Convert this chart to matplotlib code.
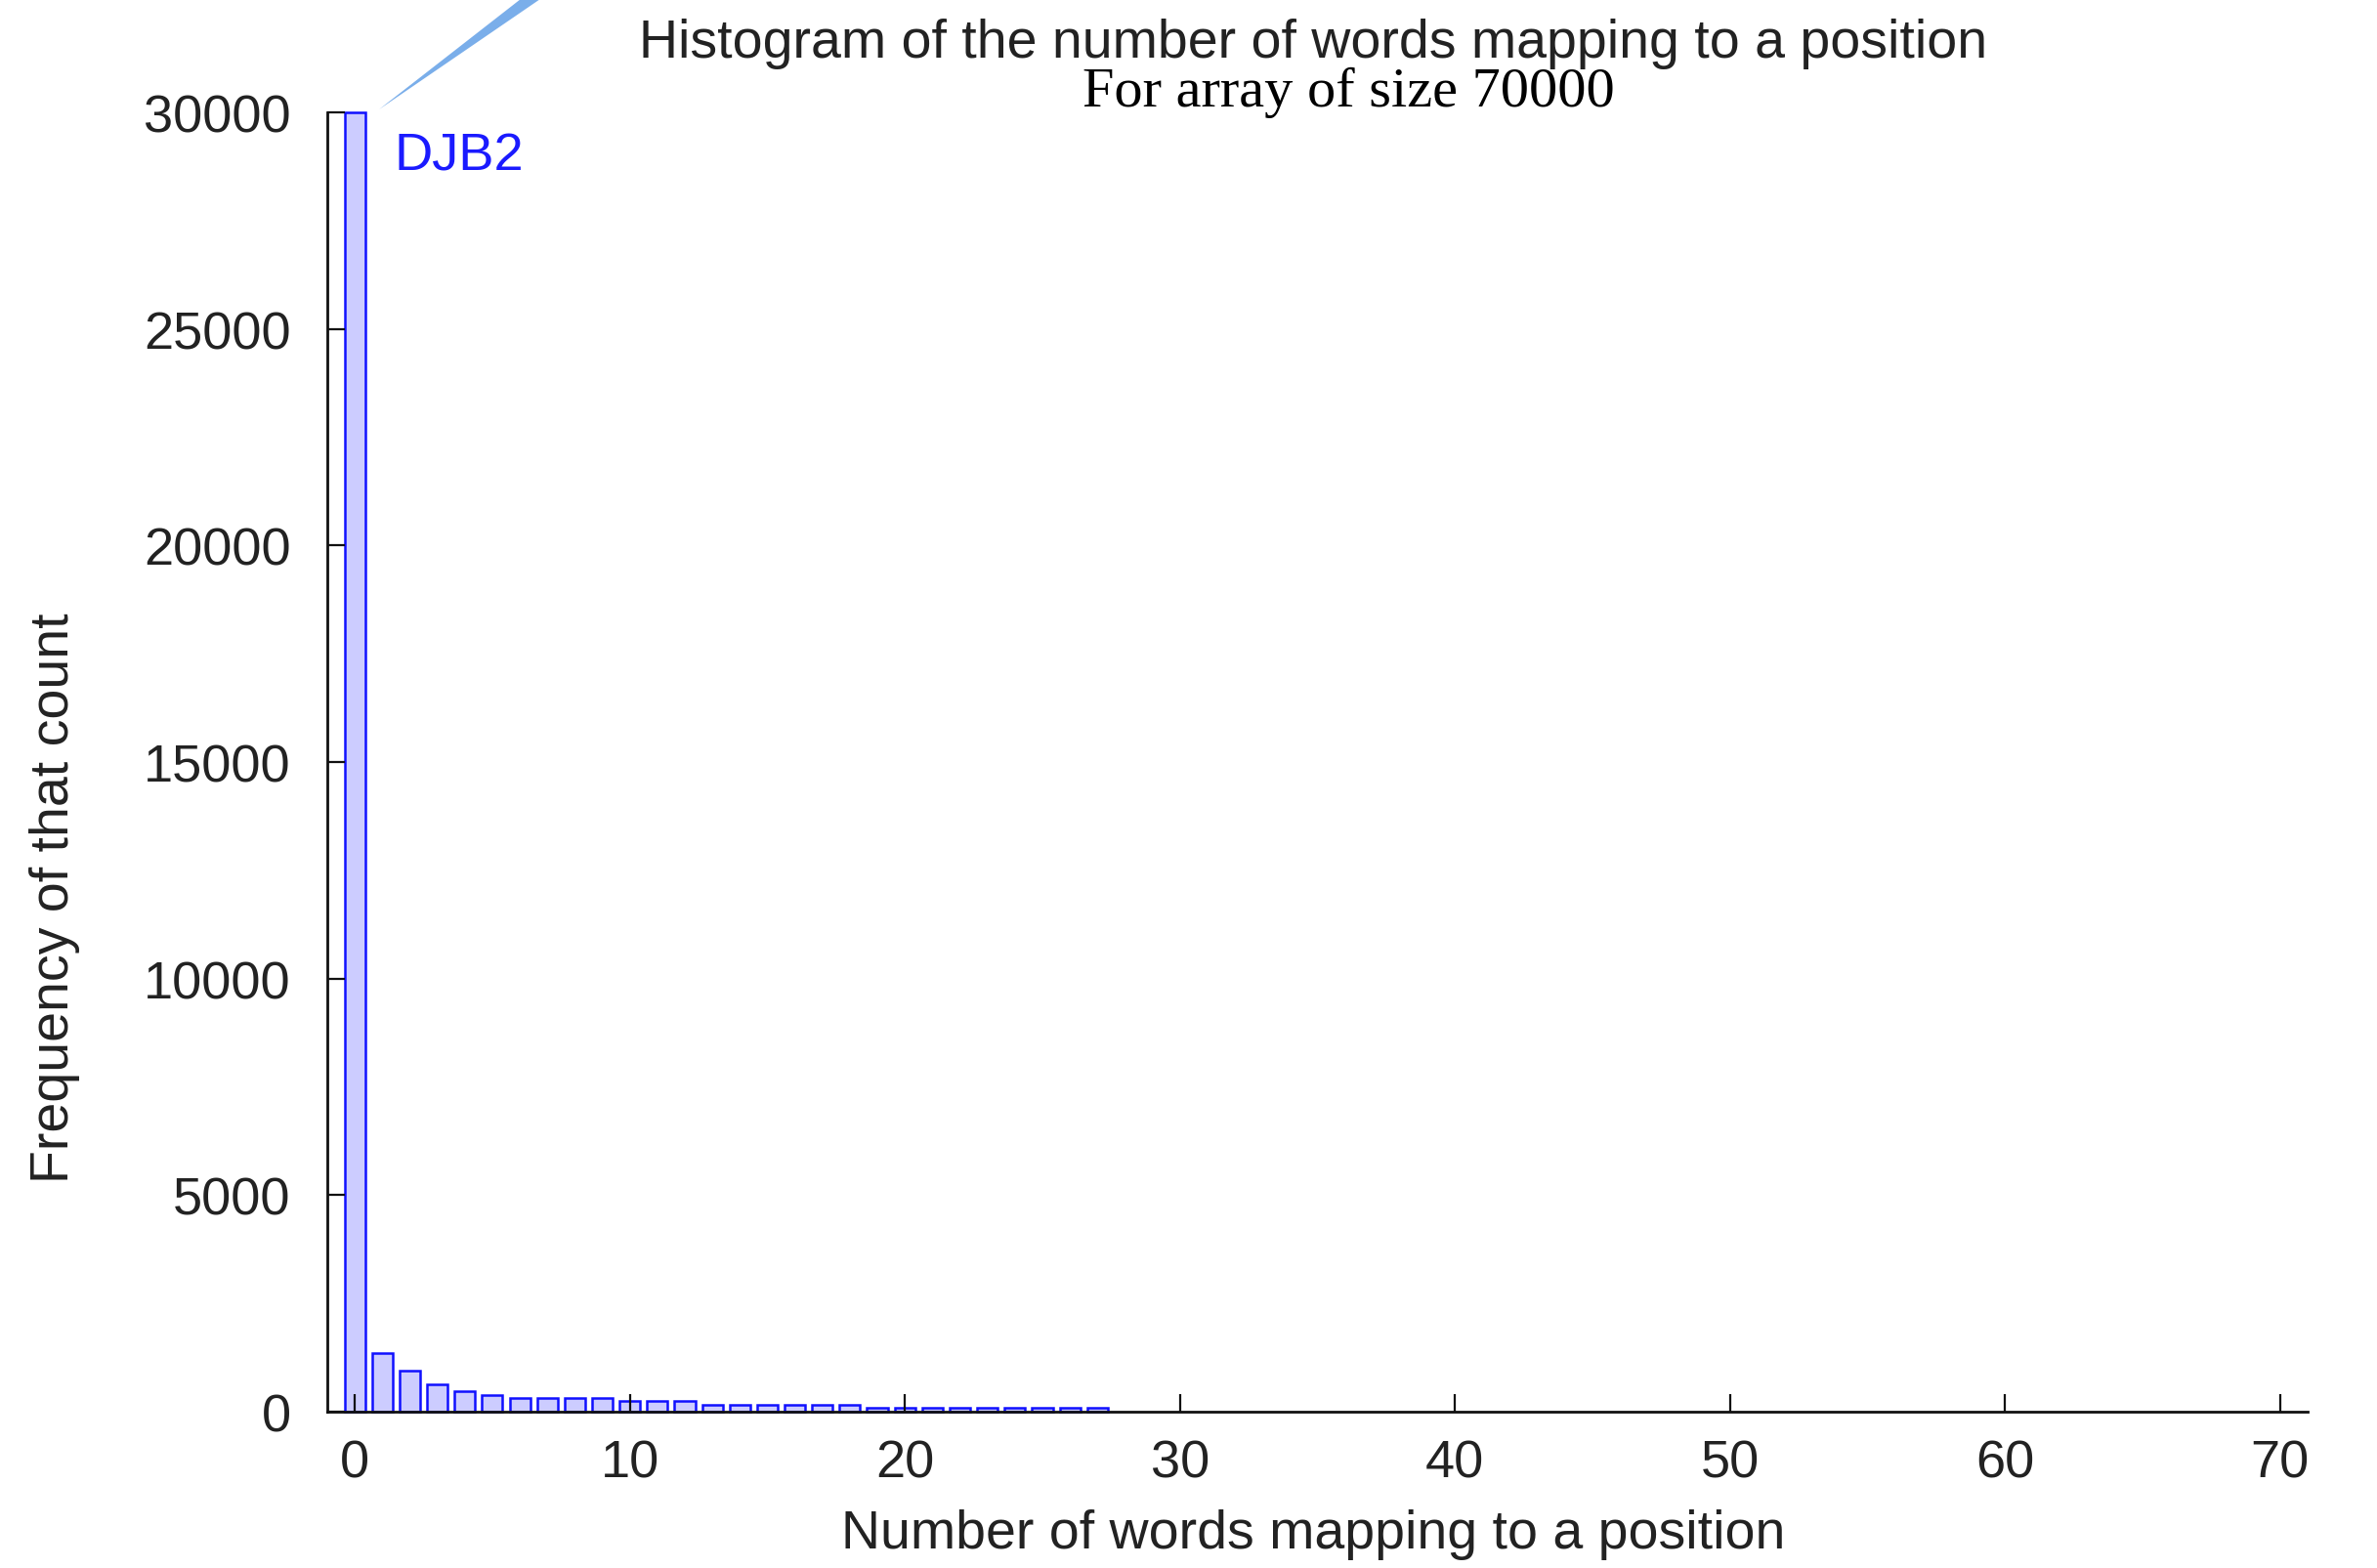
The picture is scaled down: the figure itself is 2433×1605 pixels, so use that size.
import numpy as np
import matplotlib.pyplot as plt
from matplotlib.patches import Polygon

# Histogram data
words_per_position = np.arange(28)
frequency = [30000, 1350, 940, 640, 470, 390,
             320, 320, 320, 320,
             240, 240, 240,
             165, 165, 165, 165, 165, 165,
             90, 90, 90, 90, 90, 90, 90, 90, 90]
series_name = 'DJB2'
x_ticks = [0, 10, 20, 30, 40, 50, 60, 70]
y_ticks = [0, 5000, 10000, 15000, 20000, 25000, 30000]

W, H = 2433, 1606
fig = plt.figure(figsize=(W / 100, H / 100), dpi=100)
ax = fig.add_axes([335 / W, 1 - 1446 / H, (2362 - 335) / W, (1446 - 116) / H])

sans = ['Liberation Sans', 'DejaVu Sans']
narrow = ['Liberation Sans Narrow', 'Liberation Sans', 'DejaVu Sans']

ax.bar(words_per_position, frequency, width=0.75, color='#ccccff',
       edgecolor='#1010ff', linewidth=1.8, clip_on=False)

ax.set_xlim(-1, 71)
ax.set_ylim(0, 30000)
ax.set_xticks(x_ticks)
ax.set_yticks(y_ticks)
for s in ['top', 'right']:
    ax.spines[s].set_visible(False)
for s in ['left', 'bottom']:
    ax.spines[s].set_linewidth(2.0)
    ax.spines[s].set_color('#111111')
ax.tick_params(direction='in', length=13, width=1.6, color='#111111')
ax.tick_params(axis='y', pad=27)
ax.tick_params(axis='x', pad=20)
for lab in ax.get_xticklabels() + ax.get_yticklabels():
    lab.set_family(sans)
    lab.set_fontsize(39)
    lab.set_color('#222222')

ax.text(1.45, 29550, series_name, color='#1a1aff', fontsize=39,
        family=sans, va='top', ha='left')

# title lines
fig.text(1344 / W, 1 - 59 / H, 'Histogram of the number of words mapping to a position',
         ha='center', va='baseline', fontsize=40, family=narrow, color='#222222')
fig.text(1380 / W, 1 - 109 / H, 'For array of size 70000',
         ha='center', va='baseline', fontsize=42, family=['Liberation Serif', 'DejaVu Serif'],
         color='black')

# axis labels
fig.text(1344 / W, 1 - 1571 / H, 'Number of words mapping to a position',
         ha='center', va='center', fontsize=40, family=narrow, color='#222222')
fig.text(56 / W, 1 - 919 / H, 'Frequency of that count', rotation=90,
         ha='center', va='center', fontsize=40, family=narrow, color='#222222')

# light blue callout wedge at the top
wedge = Polygon([(388 / W, 1 - 113 / H), (533 / W, 1.0), (553 / W, 1.0)],
                closed=True, transform=fig.transFigure, color='#7aaeea', lw=0)
fig.patches.append(wedge)

fig.savefig('out.png', dpi=100, facecolor='white')
